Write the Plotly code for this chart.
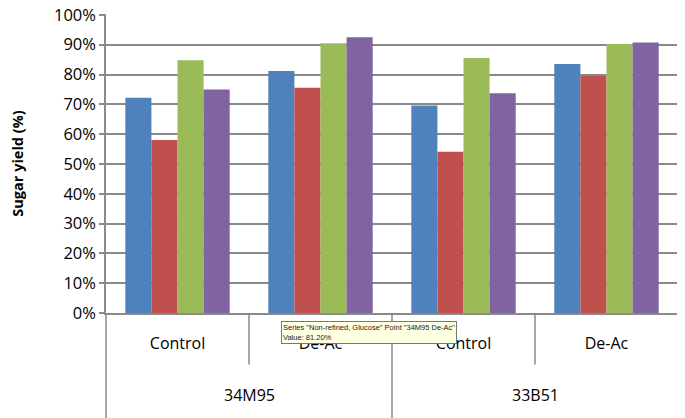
import plotly.graph_objects as go

varieties = ["34M95", "33B51"]
treatments = ["Control", "De-Ac", "Control", "De-Ac"]
point_keys = ["34M95 Control", "34M95 De-Ac", "33B51 Control", "33B51 De-Ac"]

series_names = ["Non-refined, Glucose", "Non-refined, Xylose", "Refined, Glucose", "Refined, Xylose"]
s1 = [0.722, 0.812, 0.696, 0.835]
s2 = [0.580, 0.756, 0.541, 0.795]
s3 = [0.848, 0.905, 0.855, 0.902]
s4 = [0.750, 0.925, 0.737, 0.907]
colors = ["#4F81BD", "#C0504D", "#9BBB59", "#8064A2"]
y_ticks = [0, 0.1, 0.2, 0.3, 0.4, 0.5, 0.6, 0.7, 0.8, 0.9, 1.0]
y_tick_labels = ["0%", "10%", "20%", "30%", "40%", "50%", "60%", "70%", "80%", "90%", "100%"]

GRID = "#8a8a8a"
PLOT_H = 299

fig = go.Figure()
for name, vals, c in zip(series_names, [s1, s2, s3, s4], colors):
    fig.add_trace(go.Bar(x=point_keys, y=vals, name=name,
                         marker=dict(color=c, line=dict(width=0))))

# page body has an 8px margin, so the figure is sized to fit the window
fig.update_layout(
    width=677, height=410,
    margin=dict(l=98, r=7, t=6, b=105, autoexpand=False),
    paper_bgcolor="white", plot_bgcolor="white",
    barmode="group", bargap=0.27, bargroupgap=0,
    showlegend=False,
    font=dict(family="Open Sans, Liberation Sans, sans-serif", color="#000000"),
    yaxis=dict(range=[0, 1.003], tickvals=y_ticks, ticktext=y_tick_labels, automargin=False,
               ticklabeloverflow="allow",
               showgrid=True, gridcolor=GRID, gridwidth=1.5,
               showline=True, linecolor=GRID, linewidth=1.5,
               ticks="outside", ticklen=5, tickcolor=GRID, tickwidth=1.5,
               tickfont=dict(size=16.5), zeroline=False,
               title=dict(text="<b>Sugar yield (%)</b>", font=dict(size=14.5), standoff=35)),
    xaxis=dict(type="category", automargin=False,
               tickvals=point_keys, ticktext=treatments,
               showline=True, linecolor=GRID, linewidth=1.5,
               ticks="", ticklabelstandoff=15,
               tickfont=dict(size=16)),
)

# category table lines below the axis
for xf, yb in [(0, -0.365), (0.25, -0.172), (0.5, -0.365), (0.75, -0.172), (1, -0.365)]:
    fig.add_shape(type="line", xref="paper", yref="paper", x0=xf, x1=xf, y0=0, y1=yb,
                  line=dict(color=GRID, width=1.5))

for xf, v in zip([0.25, 0.75], varieties):
    fig.add_annotation(xref="paper", yref="paper", x=xf, y=(313 - 395) / PLOT_H,
                       text=v, showarrow=False, font=dict(size=16),
                       xanchor="center", yanchor="middle")

fig.add_annotation(
    xref="paper", yref="paper", x=(281 - 106) / 572, y=(313 - 321) / PLOT_H,
    xanchor="left", yanchor="top", showarrow=False, align="left",
    text='Series "Non-refined, Glucose" Point "34M95 De-Ac"<br>Value: 81.20%',
    font=dict(size=7.5, family="Liberation Sans, sans-serif", color="#222222"),
    bgcolor="#FFFFE1", bordercolor="#777777", borderwidth=1, borderpad=1,
)

fig.write_html("out.html")
